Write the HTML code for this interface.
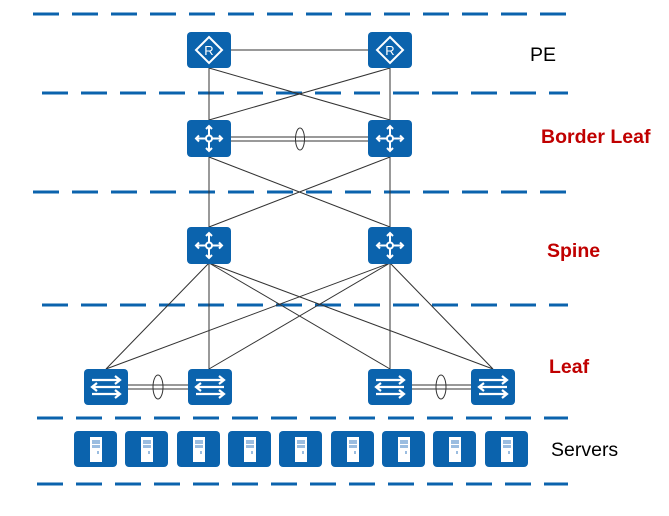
<!DOCTYPE html>
<html><head><style>body{margin:0;background:#fff}svg{display:block}</style></head><body>
<svg width="669" height="516" viewBox="0 0 669 516" xmlns="http://www.w3.org/2000/svg">
<defs>
<g id="rt"><rect x="0" y="0" width="44" height="36" rx="4" fill="#0b63ad"/><path d="M22 5 L35 18 L22 31 L9 18 Z" fill="none" stroke="#fff" stroke-width="2"/><text x="22" y="23" font-family="Liberation Sans,sans-serif" font-size="13" fill="#fff" text-anchor="middle">R</text></g>
<g id="cs"><rect x="0" y="0" width="44" height="37" rx="4" fill="#0b63ad"/><g stroke="#fff" stroke-width="2" fill="none"><path d="M22 6 V31 M9 18.5 H35"/><path d="M19 9 L22 6 L25 9 M19 28 L22 31 L25 28 M12 15.5 L9 18.5 L12 21.5 M32 15.5 L35 18.5 L32 21.5"/></g><circle cx="22" cy="18.5" r="3" fill="#0b63ad" stroke="#fff" stroke-width="2"/></g>
<g id="sw"><rect x="0" y="0" width="44" height="36" rx="4" fill="#0b63ad"/><g stroke="#fff" stroke-width="2.2" fill="none"><path d="M8 11 H36 M31 7 L36 11 L31 15"/><path d="M36 18 H8 M13 14 L8 18 L13 22"/><path d="M8 25 H36 M31 21 L36 25 L31 29"/></g></g>
<g id="sv"><rect x="0" y="0" width="43" height="36" rx="4" fill="#0b63ad"/><rect x="16" y="6" width="12" height="25" fill="#fff"/><rect x="18" y="9" width="8" height="4" fill="#9bbde0"/><rect x="18" y="14" width="8" height="3" fill="#9bbde0"/><rect x="23" y="20" width="2" height="3" fill="#9bbde0"/></g>
</defs>
<g stroke="#0b63ad" stroke-width="3" stroke-dasharray="26 13">
<line x1="33" y1="14" x2="568" y2="14"/>
<line x1="42" y1="93" x2="568" y2="93"/>
<line x1="33" y1="192" x2="568" y2="192"/>
<line x1="42" y1="305" x2="568" y2="305"/>
<line x1="37" y1="418" x2="568" y2="418"/>
<line x1="37" y1="484" x2="568" y2="484"/>
</g>
<g stroke="#333" stroke-width="1" fill="none">
<line x1="231" y1="50" x2="368" y2="50"/>
<line x1="209" y1="68" x2="209" y2="120"/><line x1="390" y1="68" x2="390" y2="120"/>
<line x1="209" y1="68" x2="390" y2="120"/><line x1="390" y1="68" x2="209" y2="120"/>
<line x1="231" y1="137" x2="368" y2="137"/><line x1="231" y1="141" x2="368" y2="141"/>
<ellipse cx="300" cy="139" rx="4.5" ry="11"/>
<line x1="209" y1="157" x2="209" y2="227"/><line x1="390" y1="157" x2="390" y2="227"/>
<line x1="209" y1="157" x2="390" y2="227"/><line x1="390" y1="157" x2="209" y2="227"/>
<line x1="209" y1="263" x2="106" y2="369"/><line x1="209" y1="263" x2="209" y2="369"/>
<line x1="209" y1="263" x2="390" y2="369"/><line x1="209" y1="263" x2="493" y2="369"/>
<line x1="390" y1="263" x2="106" y2="369"/><line x1="390" y1="263" x2="209" y2="369"/>
<line x1="390" y1="263" x2="390" y2="369"/><line x1="390" y1="263" x2="493" y2="369"/>
<line x1="128" y1="385" x2="188" y2="385"/><line x1="128" y1="389" x2="188" y2="389"/>
<ellipse cx="158" cy="387" rx="5" ry="12"/>
<line x1="412" y1="385" x2="471" y2="385"/><line x1="412" y1="389" x2="471" y2="389"/>
<ellipse cx="441" cy="387" rx="5" ry="12"/>
</g>
<use href="#rt" x="187" y="32"/><use href="#rt" x="368" y="32"/>
<use href="#cs" x="187" y="120"/><use href="#cs" x="368" y="120"/>
<use href="#cs" x="187" y="227"/><use href="#cs" x="368" y="227"/>
<use href="#sw" x="84" y="369"/><use href="#sw" x="188" y="369"/>
<use href="#sw" x="368" y="369"/><use href="#sw" x="471" y="369"/>
<use href="#sv" x="74" y="431"/><use href="#sv" x="125" y="431"/><use href="#sv" x="177" y="431"/>
<use href="#sv" x="228" y="431"/><use href="#sv" x="279" y="431"/><use href="#sv" x="331" y="431"/>
<use href="#sv" x="382" y="431"/><use href="#sv" x="433" y="431"/><use href="#sv" x="485" y="431"/>
<g font-family="Liberation Sans,sans-serif" font-size="19.5">
<text x="530" y="61" fill="#000">PE</text>
<text x="541" y="143" fill="#c00000" font-weight="bold">Border Leaf</text>
<text x="547" y="257" fill="#c00000" font-weight="bold">Spine</text>
<text x="549" y="373" fill="#c00000" font-weight="bold">Leaf</text>
<text x="551" y="456" fill="#000">Servers</text>
</g>
</svg>
</body></html>
